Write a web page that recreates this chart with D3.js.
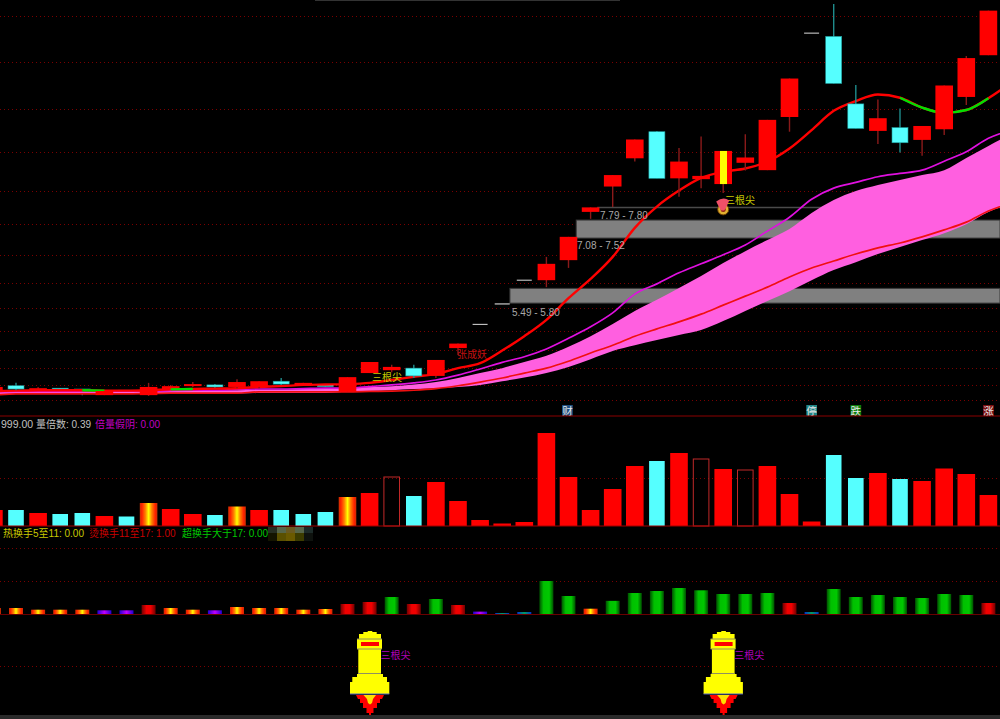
<!DOCTYPE html>
<html><head><meta charset="utf-8">
<script src="https://cdnjs.cloudflare.com/ajax/libs/d3/7.8.5/d3.min.js"></script>
<style>html,body{margin:0;padding:0;background:#000;overflow:hidden}svg{display:block}</style>
</head><body><svg id="c" width="1000" height="719"></svg>
<script>
// candle sessions start at index -1 (partly off the left edge)
const firstIndex = -1;
const opens  = [3.36,3.47,3.36,3.41,3.39,3.24,3.36,3.24,3.39,3.46,3.49,3.44,3.44,3.58,3.49,3.49,3.32,3.78,3.85,3.90,3.71,4.39,4.97,5.47,6.05,6.05,6.54,7.72,8.34,9.03,9.68,8.54,8.52,8.40,8.92,8.74,10.04,12.09,12.01,10.36,9.70,9.78,9.48,9.74,10.53,11.55];
const closes = [3.44,3.39,3.41,3.36,3.34,3.34,3.32,3.44,3.46,3.51,3.44,3.56,3.58,3.51,3.54,3.45,3.68,4.05,3.93,3.71,4.10,4.50,4.97,5.47,6.05,6.45,7.11,7.83,8.62,9.49,8.54,8.95,8.60,9.21,9.05,9.97,10.98,12.09,10.86,9.76,10.01,9.41,9.82,10.81,11.48,12.64];
const highs  = [3.44,3.54,3.44,3.41,3.39,3.34,3.36,3.54,3.49,3.56,3.51,3.63,3.58,3.66,3.54,3.49,3.68,4.05,3.98,3.98,4.10,4.50,4.97,5.47,6.05,6.62,7.11,7.83,8.62,9.49,9.70,9.28,9.56,9.21,9.62,9.97,10.98,12.09,12.80,10.82,10.47,10.25,9.82,10.81,11.53,12.64];
const lows   = [3.36,3.36,3.34,3.36,3.24,3.24,3.32,3.22,3.34,3.44,3.39,3.41,3.41,3.49,3.49,3.45,3.32,3.78,3.80,3.66,3.66,4.22,4.97,5.47,6.05,5.88,6.35,7.55,7.84,8.95,8.54,8.09,8.30,8.18,8.73,8.74,9.68,12.09,10.86,9.76,9.38,9.17,9.09,9.60,10.33,11.55];
const flatSessions = [21,22,23,36];
const highlightSession = 32;

// moving averages, index -1 .. 45
const maFast = [3.34,3.35,3.36,3.36,3.36,3.35,3.35,3.36,3.38,3.39,3.40,3.41,3.44,3.46,3.49,3.50,3.51,3.54,3.61,3.69,3.76,3.90,4.02,4.33,4.68,5.08,5.61,6.08,6.62,7.33,7.85,8.24,8.55,8.70,8.78,8.95,9.27,9.72,10.19,10.43,10.59,10.51,10.27,10.14,10.21,10.50,10.87];
const maFastFallingRuns = [[3,4],[7,8],[40,44]];
const maMid  = [3.32,3.33,3.33,3.33,3.33,3.33,3.34,3.34,3.35,3.36,3.36,3.38,3.39,3.39,3.40,3.41,3.41,3.45,3.49,3.54,3.61,3.73,3.88,4.04,4.18,4.37,4.63,4.91,5.25,5.71,5.96,6.23,6.45,6.67,6.91,7.25,7.59,8.03,8.30,8.44,8.58,8.66,8.74,8.96,9.19,9.52,9.72];
const bandTop = [3.32,3.32,3.32,3.32,3.32,3.32,3.32,3.33,3.34,3.35,3.36,3.36,3.38,3.38,3.39,3.39,3.41,3.44,3.46,3.50,3.56,3.66,3.78,3.90,4.05,4.20,4.42,4.68,4.98,5.30,5.57,5.86,6.15,6.47,6.76,7.03,7.30,7.69,8.01,8.23,8.38,8.50,8.62,8.74,9.04,9.33,9.62];
const bandLow = [3.24,3.27,3.27,3.27,3.27,3.27,3.27,3.28,3.28,3.28,3.28,3.28,3.29,3.29,3.29,3.29,3.32,3.34,3.36,3.39,3.41,3.44,3.49,3.58,3.67,3.78,3.93,4.12,4.32,4.46,4.59,4.71,4.83,5.05,5.30,5.54,5.78,6.05,6.30,6.49,6.69,6.86,7.03,7.20,7.42,7.72,7.91];
const maSlow = [3.24,3.27,3.27,3.27,3.27,3.27,3.27,3.28,3.29,3.29,3.29,3.29,3.32,3.32,3.32,3.32,3.32,3.33,3.34,3.36,3.40,3.47,3.56,3.66,3.78,3.90,4.07,4.27,4.46,4.68,4.86,5.03,5.22,5.44,5.66,5.88,6.13,6.35,6.52,6.69,6.84,6.96,7.11,7.28,7.47,7.74,7.94];

const priceGrid = [12.51,11.38,10.23,9.18,8.23,7.42,6.67,5.98,5.37,4.81,4.34,3.90,3.49,3.12];
const zoneLow  = [5.49,7.08];
const zoneHigh = [5.85,7.52];
const zoneStart = [22.35,25.35];
const zoneLabels = ["5.49 - 5.80","7.08 - 7.52"];
const levelLabel = "7.79 - 7.80";
const levelPrice = 7.83;

// volume, index -1 .. 44
const volumes = [16,16,13,12,13,10,9.5,23,17,12,11,19.5,16,16,12,14,29,33,49,30,44,25,6,2.5,4,93,49,16,37,60,65,73,67,57,56,60,32,4.5,71,48,53,47,45,57.5,52,31];
const volumeKinds = ["r","c","r","c","c","r","c","f","r","r","c","f","r","c","c","c","f","r","h","c","r","r","r","r","r","r","r","r","r","r","c","r","h","r","h","r","r","r","c","c","r","c","r","r","r","r"];
const volumeGrid = [48];

// turnover %, index -1 .. 44
const turnover = [7.8,7.8,5.6,5.6,5.6,4.8,4.8,11.7,7.8,5.6,4.8,9.1,7.8,7.8,5.6,6.5,13,15.6,22.1,13,19.5,11.7,3.1,1.3,2.6,42.9,23.4,6.9,17.1,27.3,29.9,33.8,30.8,26,26,27.3,14.3,2.6,32.5,22.1,24.7,22.1,20.8,26,24.7,14.3];
const turnoverGrid = [42.9,86];
const signalGrid = [49];
const signalSessions = [16,32];

const newsIdx = [24.95,36,38,44];
const newsText = ["财","停","跌","涨"];
const newsFill = ["#1d4f80","#1f8585","#0c7c0c","#7c1010"];

const W=1000,H=719;
const svg=d3.select("#c");
const x=d3.scaleLinear().domain([0,44]).range([16,988.4]);
const y=d3.scaleLinear().domain([12.90,2.73]).range([0,416]);
const yV=d3.scaleLinear().domain([0,100]).range([526,426]);
const yT=d3.scaleLinear().domain([0,86]).range([614,547.85]);
const yS=d3.scaleLinear().domain([0,100]).range([715,615]);
const font='"Liberation Sans","Noto Sans CJK SC",sans-serif';

const defs=svg.append("defs");
function grad(id,stops){
  const g=defs.append("linearGradient").attr("id",id).attr("x1",0).attr("x2",1).attr("y1",0).attr("y2",0);
  stops.forEach(s=>g.append("stop").attr("offset",s[0]).attr("stop-color",s[1]));
}
grad("fire",[[0,"#c83000"],[.12,"#ff2000"],[.32,"#ff8000"],[.5,"#ffff00"],[.68,"#ff8000"],[.88,"#ff2000"],[1,"#c83000"]]);
grad("green",[[0,"#005000"],[.3,"#00c000"],[.7,"#00c800"],[1,"#005000"]]);
grad("red",[[0,"#700000"],[.35,"#f00000"],[.65,"#f00000"],[1,"#700000"]]);
grad("violet",[[0,"#2000d0"],[.5,"#c000ff"],[1,"#2000d0"]]);
grad("blue",[[0,"#0030d0"],[.5,"#00a060"],[1,"#0030d0"]]);
grad("hl",[[0,"#ff0000"],[.3,"#ff0000"],[.3,"#ffff00"],[.7,"#ffff00"],[.7,"#ff0000"],[1,"#ff0000"]]);

svg.append("rect").attr("width",W).attr("height",H).attr("fill","#000");
svg.append("rect").attr("x",315).attr("y",0).attr("width",305).attr("height",1).attr("fill","#333");

function dotted(vals,sc){
  svg.append("g").selectAll("line").data(vals).join("line")
    .attr("x1",0).attr("x2",W).attr("y1",d=>Math.round(sc(d))+.5).attr("y2",d=>Math.round(sc(d))+.5)
    .attr("stroke","#7a0000").attr("stroke-width",1).attr("stroke-dasharray","1 3");
}
dotted(priceGrid,y);dotted(volumeGrid,yV);dotted(turnoverGrid,yT);dotted(signalGrid,yS);

// zones and level line
const zi=d3.range(zoneLow.length);
svg.append("g").selectAll("rect").data(zi).join("rect")
  .attr("x",i=>x(zoneStart[i])).attr("width",i=>W-x(zoneStart[i]))
  .attr("y",i=>y(zoneHigh[i])).attr("height",i=>y(zoneLow[i])-y(zoneHigh[i]))
  .attr("fill","#808080").attr("stroke","#3a3a3a").attr("stroke-width",1);
svg.append("line").attr("x1",x(26.3)).attr("x2",W).attr("y1",y(levelPrice)).attr("y2",y(levelPrice)).attr("stroke","#4a4a4a").attr("stroke-width",1.5);

function text(t,px,py,fill,size){
  return svg.append("text").attr("x",px).attr("y",py).attr("fill",fill).attr("font-family",font).attr("font-size",size||10).text(t);
}

const candleIdx=d3.range(opens.length);
const sx=i=>i+firstIndex;
function isFlat(i){return flatSessions.includes(sx(i));}
function drawCandles(list){
  const g=svg.append("g");
  g.selectAll("line").data(list.filter(i=>!isFlat(i))).join("line")
    .attr("x1",i=>x(sx(i))).attr("x2",i=>x(sx(i))).attr("y1",i=>y(highs[i])).attr("y2",i=>y(lows[i]))
    .attr("stroke",i=>closes[i]>=opens[i]?"#8a1a1a":"#1f8c8c").attr("stroke-width",1.4);
  g.selectAll("rect").data(list.filter(i=>!isFlat(i))).join("rect")
    .attr("x",i=>x(sx(i))-(closes[i]>=opens[i]?8.8:8))
    .attr("width",i=>closes[i]>=opens[i]?17.6:16)
    .attr("y",i=>y(Math.max(opens[i],closes[i])))
    .attr("height",i=>Math.abs(y(opens[i])-y(closes[i])))
    .attr("fill",i=>sx(i)===highlightSession?"url(#hl)":closes[i]>=opens[i]?"#ff0000":"#55ffff")
    .attr("stroke",i=>closes[i]>=opens[i]?"none":"#1f9c9c").attr("stroke-width",.6);
  g.selectAll("line.flat").data(list.filter(isFlat)).join("line").attr("class","flat")
    .attr("x1",i=>x(sx(i))-7.5).attr("x2",i=>x(sx(i))+7.5).attr("y1",i=>y(closes[i])).attr("y2",i=>y(closes[i]))
    .attr("stroke",i=>sx(i)===22?"#999":"#ddd").attr("stroke-width",i=>sx(i)===22?1.6:1);
}
const tall=i=>!isFlat(i)&&Math.abs(y(opens[i])-y(closes[i]))>=3;
drawCandles(candleIdx.filter(i=>!tall(i)&&!isFlat(i)));

// band and averages
const mi=d3.range(bandTop.length);
const curve=d3.curveMonotoneX;
svg.append("path").attr("fill","#ff5fe0")
  .attr("d",d3.area().curve(curve).x(i=>x(sx(i))).y0(i=>y(bandLow[i])).y1(i=>y(bandTop[i]))(mi));
const ln=vals=>d3.line().curve(curve).x(i=>x(sx(i))).y(i=>y(vals[i]));
svg.append("path").attr("fill","none").attr("stroke","#f01010").attr("stroke-width",1.7).attr("d",ln(maSlow)(mi));
svg.append("path").attr("fill","none").attr("stroke","#e010e0").attr("stroke-width",1.7).attr("d",ln(maMid)(mi));
svg.append("path").attr("fill","none").attr("stroke","#ff0000").attr("stroke-width",2.4).attr("d",ln(maFast)(mi));
svg.append("g").selectAll("path").data(maFastFallingRuns).join("path").attr("fill","none")
  .attr("stroke","#00e000").attr("stroke-width",2.4)
  .attr("d",r=>ln(maFast)(d3.range(r[0]-firstIndex,r[1]-firstIndex+1)));

drawCandles(candleIdx.filter(tall));
drawCandles(candleIdx.filter(isFlat));

// zone + level labels
zi.forEach(i=>text(zoneLabels[i],i===0?512:577,i===0?316:249,"#a8a8a8",10));
text(levelLabel,600,219,"#a8a8a8",10);
text("三根尖",372,381,"#c8c800",10);
text("三根尖",725,204,"#c8c800",10);
text("张成妖",457,358,"#c01010",10);

// small badge under highlighted candle
const bx=x(highlightSession),by=y(levelPrice);
svg.append("circle").attr("cx",bx).attr("cy",by+2).attr("r",5.5).attr("fill","#e0b030").attr("stroke","#704000");
svg.append("circle").attr("cx",bx).attr("cy",by+2).attr("r",2.5).attr("fill","#902010");
svg.append("path").attr("d",`M${bx-7},${by-6}Q${bx},${by-11} ${bx+6},${by-7}L${bx+3},${by}L${bx+1},${by+3}L${bx-2},${by+3}L${bx-4},${by}Z`).attr("fill","#f05068");

// news tags
const ng=svg.append("g");
newsIdx.forEach((n,i)=>{
  ng.append("rect").attr("x",x(n)-5.3).attr("y",405).attr("width",10.7).attr("height",10.7).attr("fill",newsFill[i]);
  ng.append("text").attr("x",x(n)).attr("y",414.5).attr("text-anchor","middle").attr("font-size",10.5).attr("font-family",font).attr("fill","#e8e8e8").text(newsText[i]);
});

// volume
const vi=d3.range(volumes.length);
svg.append("g").selectAll("rect").data(vi).join("rect")
  .attr("x",i=>{const w=["c","h"].includes(volumeKinds[i])?15.6:17.6;return x(sx(i))-w/2;})
  .attr("width",i=>["c","h"].includes(volumeKinds[i])?15.6:17.6)
  .attr("y",i=>yV(volumes[i])).attr("height",i=>yV(0)-yV(volumes[i]))
  .attr("fill",i=>({r:"#ff0000",c:"#55ffff",f:"url(#fire)",h:"none"})[volumeKinds[i]])
  .attr("stroke",i=>volumeKinds[i]==="h"?"#c02828":"none").attr("stroke-width",1);

// turnover
const tClass=v=>v>=17?"green":v>=11?"red":v>=5?"fire":v>=3?"violet":"blue";
svg.append("g").selectAll("rect").data(vi).join("rect")
  .attr("x",i=>x(sx(i))-7).attr("width",14)
  .attr("y",i=>yT(turnover[i])).attr("height",i=>yT(0)-yT(turnover[i]))
  .attr("fill",i=>`url(#${tClass(turnover[i])})`);

// panel rules
[[416,"#8c0000"],[526,"#a00000"],[614.5,"#6a0000"]].forEach(r=>{
  svg.append("line").attr("x1",0).attr("x2",W).attr("y1",r[0]).attr("y2",r[0]).attr("stroke",r[1]).attr("stroke-width",1.2);
});

// headers
text("999.00",1,428,"#c0c0c0",10.5);
text("量倍数: 0.39",36,428,"#c0c0c0");
text("倍量假阴: 0.00",95,428,"#c000c0");
text("热换手5至11: 0.00",3,536.5,"#c8c800");
text("烫换手11至17: 1.00",89,536.5,"#c80000");
text("超换手大于17: 0.00",182,536.5,"#00c800");

// mosaic patch beside the header
const mosaicTop=["#262e22","#56664a","#6a5a20","#56664a","#1c2a28"];
const mosaicBot=["#141400","#5a5000","#6a5a00","#3c3c00","#0e120e"];
[mosaicTop,mosaicBot].forEach((row,r)=>row.forEach((c,k)=>{
  svg.append("rect").attr("x",268+k*9).attr("y",r?533:527).attr("width",9).attr("height",r?8:6).attr("fill",c);
}));

// signal rockets
const yellowOutline=[[-2.3,-84],[2.3,-84],[2.3,-83],[6.7,-83],[6.7,-81],[11,-81],[11,-76],[12,-76],[12,-66],[11,-66],[11,-41],[13,-41],[13,-38],[17,-38],[17,-33],[19.3,-33],[19.3,-21],[-20,-21],[-20,-33],[-17.7,-33],[-17.7,-38],[-13,-38],[-13,-41],[-11.7,-41],[-11.7,-66],[-13,-66],[-13,-76],[-11,-76],[-11,-81],[-6.7,-81],[-6.7,-83],[-2.3,-83]];
const flameOutline=[[-14,-20],[14,-20],[12,-16],[10,-16],[10,-12],[7,-12],[7,-7],[3.5,-7],[3.5,-2],[1,-2],[1,0],[-1,0],[-1,-2],[-3.5,-2],[-3.5,-7],[-7,-7],[-7,-12],[-10,-12],[-10,-16],[-12,-16]];
const flameCore=[[-6.5,-20],[6,-20],[3,-16],[2,-12],[0,-10.5],[-2,-12],[-3,-16]];
signalSessions.forEach(s=>{
  const g=svg.append("g").attr("transform",`translate(${x(s)+.4},${yS(0)})`);
  const p=a=>"M"+a.map(d=>d.join(",")).join("L")+"Z";
  g.append("path").attr("d",p(flameOutline)).attr("fill","#ff0000");
  g.append("path").attr("d",p(flameCore)).attr("fill","#ffe000");
  g.append("path").attr("d",p(yellowOutline)).attr("fill","#ffff00");
  [[-13,12,-76,"#909060"],[-13,12,-66,"#909060"],[-12,11,-41.5,"#909060"],[-20,19.3,-21,"#5060c0"]].forEach(l=>{
    g.append("line").attr("x1",l[0]).attr("x2",l[1]).attr("y1",l[2]).attr("y2",l[2]).attr("stroke",l[3]).attr("stroke-width",1);
  });
  g.append("rect").attr("x",-9).attr("y",-73).attr("width",18).attr("height",4).attr("fill","#ff0000");
  svg.append("text").attr("x",x(s)+11).attr("y",659).attr("fill","#b000b8").attr("font-family",font).attr("font-size",10).text("三根尖");
});
svg.append("rect").attr("x",0).attr("y",715).attr("width",W).attr("height",4).attr("fill","#2a2a2a");
</script></body></html>
